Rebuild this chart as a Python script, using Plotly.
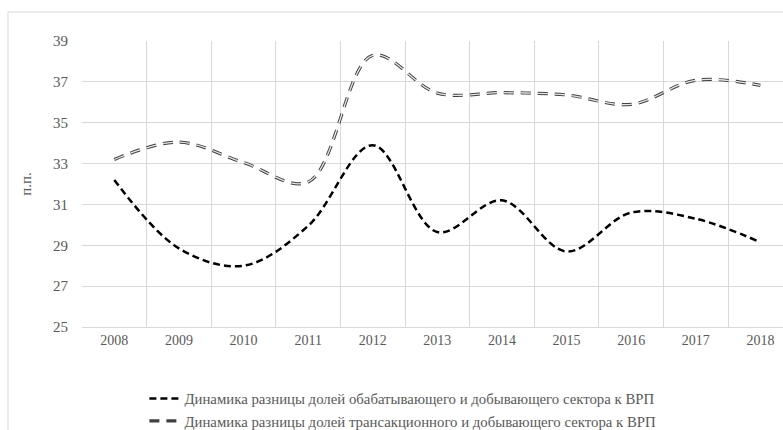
import plotly.graph_objects as go

years = ["2008", "2009", "2010", "2011", "2012", "2013", "2014", "2015", "2016", "2017", "2018"]
manuf_vs_mining = [32.2, 28.85, 28.0, 29.95, 33.9, 29.65, 31.2, 28.7, 30.6, 30.3, 29.15]
trans_vs_mining = [33.2, 34.05, 33.05, 32.1, 38.3, 36.45, 36.47, 36.36, 35.9, 37.08, 36.83]
name1 = "Динамика разницы долей обабатывающего и добывающего сектора к ВРП"
name2 = "Динамика разницы долей трансакционного и добывающего сектора к ВРП"
y_ticks = [25, 27, 29, 31, 33, 35, 37, 39]

FONT = "Liberation Serif"
GRAY = "#595959"

fig = go.Figure()
fig.add_trace(go.Scatter(
    x=years, y=manuf_vs_mining, name=name1, mode="lines",
    line=dict(color="black", width=2.5, dash="7px,4px", shape="spline", smoothing=1.0),
))
fig.add_trace(go.Scatter(
    x=years, y=trans_vs_mining, name=name2, mode="lines",
    line=dict(color="#404040", width=3.2, dash="10px,7px", shape="spline", smoothing=1.0),
))
fig.add_trace(go.Scatter(
    x=years, y=trans_vs_mining, name=name2, mode="lines", showlegend=False,
    line=dict(color="#e6e6e6", width=1.3, dash="10px,7px", shape="spline", smoothing=1.0),
    hoverinfo="skip",
))

fig.update_layout(
    width=783, height=430,
    margin=dict(l=82, r=0, t=41, b=103, autoexpand=False),
    paper_bgcolor="white", plot_bgcolor="white",
    font=dict(family=FONT, color=GRAY, size=14),
    showlegend=True,
    legend=dict(
        x=0.089, xanchor="left", y=-0.194, yanchor="top",
        font=dict(family=FONT, size=14.8, color=GRAY),
        bgcolor="rgba(0,0,0,0)", tracegroupgap=0, itemwidth=30,
    ),
    xaxis=dict(
        type="category", range=[-0.5, 10.35],
        tickson="boundaries", ticks="", showgrid=True,
        gridcolor="#d9d9d9", gridwidth=1,
        showline=True, linecolor="#d9d9d9", linewidth=1,
        tickfont=dict(family=FONT, size=14, color=GRAY),
        zeroline=False, automargin=False,
    ),
    yaxis=dict(
        range=[25, 39], tickvals=y_ticks, ticks="",
        showgrid=True, gridcolor="#d9d9d9", gridwidth=1,
        zeroline=False, showline=False,
        tickfont=dict(family=FONT, size=15, color=GRAY),
        ticklabelstandoff=13, automargin=False,
        title=dict(text="п.п.", font=dict(family=FONT, size=15, color=GRAY), standoff=17),
    ),
    shapes=[dict(
        type="rect", xref="paper", yref="paper",
        x0=-0.1056, x1=1.02, y0=-0.4, y1=1.1014,
        line=dict(color="#d9d9d9", width=1), fillcolor="rgba(0,0,0,0)", layer="below",
    )],
)

fig.write_html("out.html")
